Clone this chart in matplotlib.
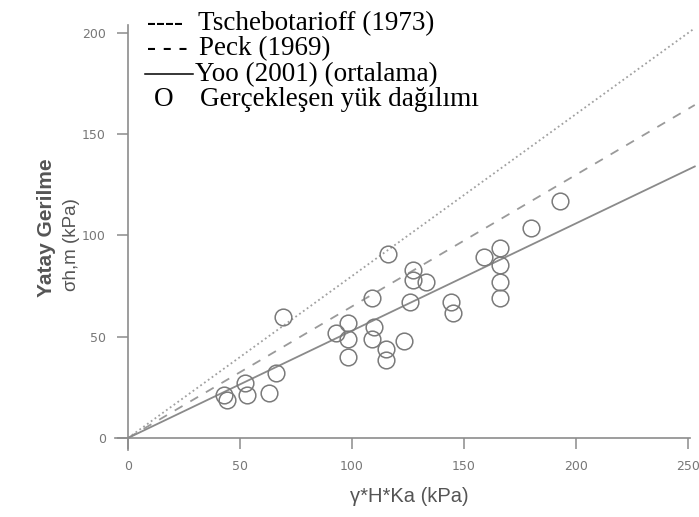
import numpy as np
import matplotlib
matplotlib.use('Agg')
import matplotlib.pyplot as plt
from matplotlib.lines import Line2D

# 測量點 (γ*H*Ka, σh,m)
obs_x = [69, 43, 44, 52, 53, 63, 66, 93, 98, 98, 98, 116, 109, 110, 109, 115, 115,
         123, 127, 127, 133, 126, 144, 145, 159, 166, 166, 166, 166, 180, 193]
obs_y = [60, 21, 19, 27, 21, 22, 32, 52, 57, 49, 40, 91, 69, 55, 49, 44, 38.5,
         48, 83, 78, 77, 67, 67, 61.5, 89.5, 94, 85.5, 77, 69, 103.5, 117]

# 經驗線斜率
slope_tsch = 0.80   # Tschebotarioff (1973)
slope_peck = 0.65   # Peck (1969)
slope_yoo = 0.53    # Yoo (2001) ortalama

legend_rows = ["Tschebotarioff (1973)", "Peck (1969)",
               "Yoo (2001) (ortalama)", "Gerçekleşen yük dağılımı"]

W, H = 699, 517
fig = plt.figure(figsize=(W / 100, H / 100), dpi=100)
ax = fig.add_axes([114.6 / W, 66.85 / H, 575.7 / W, 425.25 / H])

gray = '#8c8c8c'
xs = np.array([0, 253])
ax.plot(xs, slope_tsch * xs, color='#a0a0a0', lw=1.3, ls=(0, (1, 1.6)), clip_on=False)
ax.plot(xs, slope_peck * xs, color='#9a9a9a', lw=1.3, ls=(0, (5, 5)), clip_on=False)
ax.plot(xs, slope_yoo * xs, color='#8a8a8a', lw=1.3, clip_on=False)
ax.plot(obs_x, obs_y, 'o', ms=12, mfc='none', mec='#7a7a7a', mew=1.1)

ax.set_xlim(-6, 251)
ax.set_ylim(-6, 204)
ax.set_xticks([0, 50, 100, 150, 200, 250])
ax.set_yticks([0, 50, 100, 150, 200])
for s in ['top', 'right']:
    ax.spines[s].set_visible(False)
ax.spines['left'].set_position(('data', 0))
ax.spines['bottom'].set_position(('data', 0))
for s in ['left', 'bottom']:
    ax.spines[s].set_color(gray)
    ax.spines[s].set_linewidth(1.2)
ax.tick_params(colors=gray, length=8, width=1.1, labelsize=9, pad=8,
               labelcolor='#777777')

fig.text(409 / W, 1 - 497 / H, 'γ*H*Ka (kPa)', ha='center', va='center',
         fontsize=14.5, color='#555555', family='Liberation Sans')
fig.text(47 / W, 1 - 228 / H, 'Yatay Gerilme', ha='center', va='center',
         rotation=90, fontsize=15, fontweight='bold', color='#555555',
         family='Liberation Sans')
fig.text(72 / W, 1 - 245 / H, 'σh,m (kPa)', ha='center', va='center',
         rotation=90, fontsize=13.5, color='#555555', family='Liberation Sans')

# 圖例 (文字形式)
serif = dict(family='Liberation Serif', fontsize=19.5, color='black', va='baseline')
fig.text(147 / W, 1 - 30 / H, '----', **serif)
fig.text(198 / W, 1 - 30 / H, legend_rows[0], **serif)
fig.text(147 / W, 1 - 55 / H, '- - -', **serif)
fig.text(199 / W, 1 - 55 / H, legend_rows[1], **serif)
fig.add_artist(Line2D([145 / W, 193 / W], [1 - 74 / H, 1 - 74 / H],
                      color='black', lw=1.1, transform=fig.transFigure))
fig.text(195 / W, 1 - 81 / H, legend_rows[2], **serif)
fig.text(154 / W, 1 - 106 / H, 'O', **serif)
fig.text(200 / W, 1 - 106 / H, legend_rows[3], **serif)

fig.savefig('out.png', dpi=100)
